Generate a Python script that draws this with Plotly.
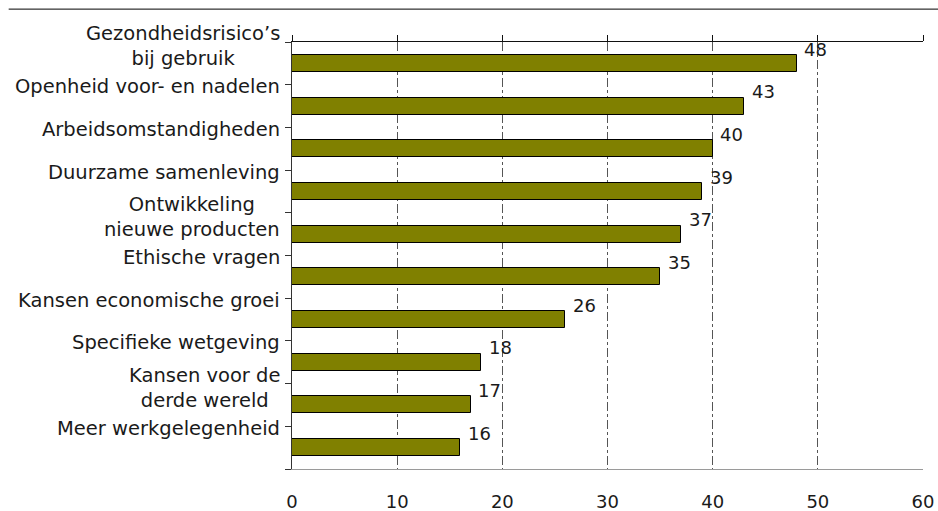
import plotly.graph_objects as go

# Survey topics (top to bottom) and their scores
categories = [
    "Gezondheidsrisico’s<br>bij gebruik",
    "Openheid voor- en nadelen",
    "Arbeidsomstandigheden",
    "Duurzame samenleving",
    "Ontwikkeling<br>nieuwe producten",
    "Ethische vragen",
    "Kansen economische groei",
    "Specifieke wetgeving",
    "Kansen voor de<br>derde wereld",
    "Meer werkgelegenheid",
]
values = [48, 43, 40, 39, 37, 35, 26, 18, 17, 16]
x_ticks = [0, 10, 20, 30, 40, 50, 60]

FONT = "DejaVu Sans"
n = len(categories)
# each topic owns one unit band; the bar sits in the middle of its band
band_top = [n - i for i in range(n)]
bar_pos = [t - 0.5 for t in band_top]

fig = go.Figure()
fig.add_trace(go.Bar(
    x=values, y=bar_pos, orientation="h", width=0.4,
    marker=dict(color="#808000", line=dict(color="black", width=1)),
    hoverinfo="skip", showlegend=False,
))
# invisible trace so the top axis is drawn
fig.add_trace(go.Scatter(x=[0], y=[0], xaxis="x2", mode="markers",
                         marker=dict(opacity=0), hoverinfo="skip",
                         showlegend=False))

annotations = []
for cat, top in zip(categories, band_top):
    two_lines = "<br>" in cat
    annotations.append(dict(
        x=0, xref="paper", y=top, yref="y", text=cat, showarrow=False,
        xanchor="right", yanchor="middle", align="center",
        xshift=-10, yshift=-4 if two_lines else -2,
        font=dict(family=FONT, size=19.5, color="#1a1a1a"),
    ))
for v, top in zip(values, band_top):
    annotations.append(dict(
        x=v, xref="x", y=top, yref="y", text=str(v), showarrow=False,
        xanchor="center", yanchor="middle", xshift=19, yshift=-7,
        font=dict(family=FONT, size=18, color="#1a1a1a"),
    ))

fig.update_layout(
    width=938, height=511,
    margin=dict(l=292, r=15, t=42, b=42, autoexpand=False),
    paper_bgcolor="white", plot_bgcolor="white",
    bargap=0,
    xaxis=dict(
        range=[0, 60], tickvals=x_ticks, ticktext=[str(t) for t in x_ticks],
        showline=True, linecolor="#9a9a9a", linewidth=1,
        showgrid=True, gridcolor="#555555", gridwidth=1, griddash="dashdot",
        zeroline=False, ticks="", ticklabelstandoff=16, automargin=False,
        tickfont=dict(family=FONT, size=18, color="#1a1a1a"),
        fixedrange=True,
    ),
    xaxis2=dict(
        range=[0, 60], tickvals=x_ticks, overlaying="x", side="top",
        anchor="y", showline=True, linecolor="#111111", linewidth=1,
        ticks="outside", ticklen=6, tickcolor="#111111", automargin=False,
        showticklabels=False, showgrid=False, zeroline=False,
    ),
    yaxis=dict(
        range=[0, n], tickvals=list(range(n + 1)), showticklabels=False,
        showline=True, linecolor="#333333", linewidth=1,
        ticks="outside", ticklen=6, tickcolor="#333333", automargin=False,
        showgrid=False, zeroline=False, fixedrange=True,
    ),
    annotations=annotations,
    shapes=[dict(type="line", xref="paper", yref="paper",
                 x0=-0.449, x1=1.03, y0=1.077, y1=1.077,
                 line=dict(color="black", width=1))],
)

fig.write_html("out.html")
